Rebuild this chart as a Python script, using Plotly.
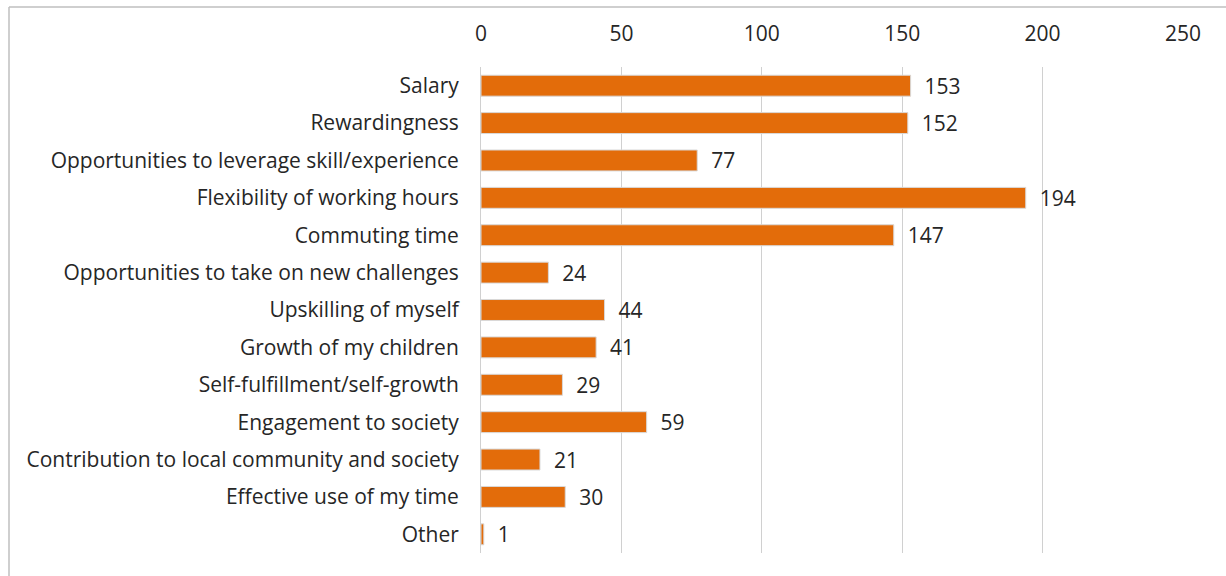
import plotly.graph_objects as go

categories = [
    "Salary",
    "Rewardingness",
    "Opportunities to leverage skill/experience",
    "Flexibility of working hours",
    "Commuting time",
    "Opportunities to take on new challenges",
    "Upskilling of myself",
    "Growth of my children",
    "Self-fulfillment/self-growth",
    "Engagement to society",
    "Contribution to local community and society",
    "Effective use of my time",
    "Other",
]
values = [153, 152, 77, 194, 147, 24, 44, 41, 29, 59, 21, 30, 1]
tick_vals = [0, 50, 100, 150, 200, 250]

W, H = 1226, 576
L, R, T, B = 481, 1183, 67, 553
FONT = "Open Sans, Lato, sans-serif"
FS = 21
TXT = "#262626"

fig = go.Figure(go.Bar(
    y=categories,
    x=values,
    orientation="h",
    marker=dict(color="#E36C0A", line=dict(color="#D9D9D9", width=1)),
    text=values,
    texttemplate="  %{x}",
    textposition="outside",
    constraintext="none",
    cliponaxis=False,
    textfont=dict(family=FONT, size=FS, color=TXT),
))

fig.update_layout(
    width=W, height=H,
    margin=dict(l=L, r=W - R, t=T, b=H - B, pad=0),
    paper_bgcolor="white",
    plot_bgcolor="white",
    bargap=0.44,
    showlegend=False,
    font=dict(family=FONT, size=FS, color=TXT),
    xaxis=dict(
        side="top",
        range=[0, 250],
        tickvals=tick_vals,
        showgrid=True,
        gridcolor="#D0D0D0",
        gridwidth=1,
        zeroline=False,
        showline=False,
        ticks="",
        ticklabelstandoff=21,
        tickfont=dict(family=FONT, size=FS, color=TXT),
    ),
    yaxis=dict(
        autorange="reversed",
        categoryorder="array",
        categoryarray=categories,
        showgrid=False,
        zeroline=False,
        showline=True,
        linecolor="#D0D0D0",
        linewidth=1,
        ticks="",
        ticklabelstandoff=17,
        tickfont=dict(family=FONT, size=FS, color=TXT),
    ),
    shapes=[
        dict(type="line", xref="paper", yref="paper",
             x0=(9 - L) / (R - L), x1=(1240 - L) / (R - L),
             y0=1 + (T - 7) / (B - T), y1=1 + (T - 7) / (B - T),
             line=dict(color="#BFBFBF", width=1.5)),
        dict(type="line", xref="paper", yref="paper",
             x0=(9 - L) / (R - L), x1=(9 - L) / (R - L),
             y0=1 + (T - 7) / (B - T), y1=-0.2,
             line=dict(color="#BFBFBF", width=1.5)),
    ],
)

fig.write_html("out.html", config={"displayModeBar": False},
               post_script="document.body.style.margin='0';")
